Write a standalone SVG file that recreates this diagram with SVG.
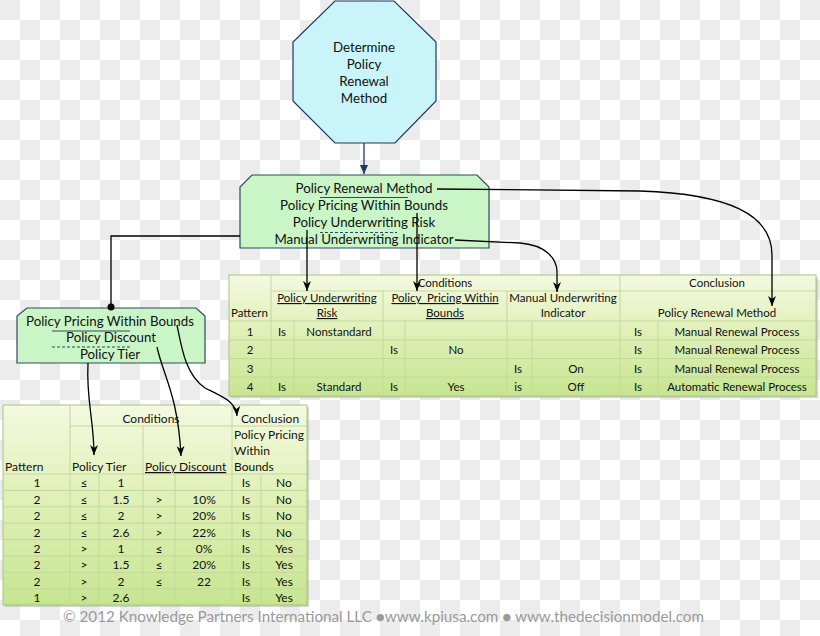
<svg xmlns="http://www.w3.org/2000/svg" width="820" height="636" viewBox="0 0 820 636">
<defs>
<pattern id="chk" x="0" y="0" width="40" height="40" patternUnits="userSpaceOnUse">
<rect width="40" height="40" fill="#ffffff"/>
<rect width="20" height="20" fill="#ececec"/>
<rect x="20" y="20" width="20" height="20" fill="#ececec"/>
</pattern>
<linearGradient id="tg" x1="0" y1="0" x2="0" y2="1">
<stop offset="0" stop-color="#f4f9e0"/>
<stop offset="0.4" stop-color="#e3f1bd"/>
<stop offset="1" stop-color="#c6e590"/>
</linearGradient>
<marker id="ah" viewBox="0 0 10 10" refX="10" refY="5" markerWidth="10" markerHeight="10" markerUnits="userSpaceOnUse" orient="auto">
<path d="M0,1 L10,5 L0,9 L3,5 z" fill="#000"/>
</marker>
<marker id="ahn" viewBox="0 0 10 10" refX="10" refY="5" markerWidth="9" markerHeight="9" markerUnits="userSpaceOnUse" orient="auto">
<path d="M0,0.5 L10,5 L0,9.5 z" fill="#1f3864"/>
</marker>
</defs>
<style>
text{font-family:Lato,"Liberation Sans",sans-serif;fill:#111}
.b{font-size:13.3px;text-anchor:middle}
.t{font-size:11.5px}
.l{font-size:12px}
.m{text-anchor:middle}
.u{text-decoration:underline}
.grid{stroke:#c3d99a;stroke-width:1;fill:none}
.out{stroke:#a8c67a;stroke-width:1;fill:url(#tg)}
.sh{fill:#b8b8b8;opacity:0.6}
.c{fill:none;stroke:#000;stroke-width:1.3}
.gbox{fill:#c9f5c7;stroke:#2e4a5c;stroke-width:1.2}
</style>
<rect width="820" height="636" fill="url(#chk)"/>

<g id="node-determine">
<polygon points="335,1 394,1 436,42 436,101 395,143 335,143 293,101 293,42" fill="#c8f4fa" stroke="#1f3864" stroke-width="1.2"/>
<text class="b" x="364" y="52">Determine</text>
<text class="b" x="364" y="69">Policy</text>
<text class="b" x="364" y="86">Renewal</text>
<text class="b" x="364" y="103">Method</text>
</g>

<g id="node-renewal-method">
<polygon class="gbox" points="252,175 477,175 489,187 489,248 240,248 240,187"/>
<text class="b" x="364" y="193">Policy Renewal Method</text>
<text class="b" x="364" y="210">Policy Pricing Within Bounds</text>
<text class="b" x="364" y="227">Policy Underwriting Risk</text>
<text class="b" x="364" y="244">Manual Underwriting Indicator</text>
<line x1="320" y1="197.5" x2="408" y2="197.5" stroke="#2e4a5c" stroke-width="1"/>
<line x1="320" y1="232.5" x2="397" y2="232.5" stroke="#2e4a5c" stroke-width="1" stroke-dasharray="3,2"/>
</g>

<g id="node-pricing-bounds">
<polygon class="gbox" points="27,308 196,308 205,316 205,363 17,363 17,316"/>
<text class="b" x="110" y="326">Policy Pricing Within Bounds</text>
<text class="b" x="111" y="342">Policy Discount</text>
<text class="b" x="110" y="359">Policy Tier</text>
<line x1="52" y1="331" x2="130" y2="331" stroke="#2e4a5c" stroke-width="1"/>
<line x1="52" y1="347" x2="130" y2="347" stroke="#2e4a5c" stroke-width="1" stroke-dasharray="3,2"/>
</g>

<g id="node-renewal-table">
<rect class="sh" x="231" y="277" width="587" height="121"/>
<rect class="out" x="229" y="275" width="587" height="121"/>
<path class="grid" d="M271,291 H816 M229,321 H816 M229,340 H816 M229,358.5 H816 M229,377 H816 M271,275 V396 M620,275 V396 M383,291 V396 M507,291 V396 M294,321 V396 M405,321 V396 M532,321 V396 M658,321 V396"/>
<text class="t m" x="445" y="287">Conditions</text>
<text class="t m" x="717" y="287">Conclusion</text>
<text class="t" x="231" y="317">Pattern</text>
<text class="t m u" x="327" y="302">Policy Underwriting</text>
<text class="t m u" x="327" y="317">Risk</text>
<text class="t m u" x="445" y="302" xml:space="preserve" style="white-space:pre">Policy  Pricing Within</text>
<text class="t m u" x="445" y="317">Bounds</text>
<text class="t m" x="563" y="302">Manual Underwriting</text>
<text class="t m" x="563" y="317">Indicator</text>
<text class="t m" x="717" y="317">Policy Renewal Method</text>
<text class="t m" x="250" y="335.5">1</text>
<text class="t m" x="282" y="335.5">Is</text>
<text class="t m" x="339" y="335.5">Nonstandard</text>
<text class="t m" x="638" y="335.5">Is</text>
<text class="t m" x="737" y="335.5">Manual Renewal Process</text>
<text class="t m" x="250" y="354">2</text>
<text class="t m" x="394" y="354">Is</text>
<text class="t m" x="456" y="354">No</text>
<text class="t m" x="638" y="354">Is</text>
<text class="t m" x="737" y="354">Manual Renewal Process</text>
<text class="t m" x="250" y="372.5">3</text>
<text class="t m" x="518" y="372.5">Is</text>
<text class="t m" x="576" y="372.5">On</text>
<text class="t m" x="638" y="372.5">Is</text>
<text class="t m" x="737" y="372.5">Manual Renewal Process</text>
<text class="t m" x="250" y="391">4</text>
<text class="t m" x="282" y="391">Is</text>
<text class="t m" x="339" y="391">Standard</text>
<text class="t m" x="394" y="391">Is</text>
<text class="t m" x="456" y="391">Yes</text>
<text class="t m" x="518" y="391">is</text>
<text class="t m" x="576" y="391">Off</text>
<text class="t m" x="638" y="391">Is</text>
<text class="t m" x="737" y="391">Automatic Renewal Process</text>
</g>

<g id="node-pricing-table">
<rect class="sh" x="5" y="407" width="304" height="200"/>
<rect class="out" x="3" y="405" width="304" height="200"/>
<path class="grid" d="M70,426 H307 M3,474 H307 M3,490.4 H307 M3,506.8 H307 M3,523.2 H307 M3,539.6 H307 M3,556 H307 M3,572.4 H307 M3,588.8 H307 M70,405 V605 M232,405 V605 M143,426 V605 M99,474 V605 M175,474 V605 M261,474 V605"/>
<text class="l m" x="151" y="423">Conditions</text>
<text class="l m" x="270" y="423">Conclusion</text>
<text class="l" x="234" y="439">Policy Pricing</text>
<text class="l" x="234" y="455">Within</text>
<text class="l" x="234" y="471">Bounds</text>
<text class="l" x="5" y="471">Pattern</text>
<text class="l" x="72" y="471">Policy Tier</text>
<text class="l u" x="145" y="471">Policy Discount</text>
<g class="l m">
<text x="37" y="487">1</text><text x="84" y="487">≤</text><text x="121" y="487">1</text><text x="246" y="487">Is</text><text x="284" y="487">No</text>
<text x="37" y="503.5">2</text><text x="84" y="503.5">≤</text><text x="121" y="503.5">1.5</text><text x="159" y="503.5">&gt;</text><text x="204" y="503.5">10%</text><text x="246" y="503.5">Is</text><text x="284" y="503.5">No</text>
<text x="37" y="520">2</text><text x="84" y="520">≤</text><text x="121" y="520">2</text><text x="159" y="520">&gt;</text><text x="204" y="520">20%</text><text x="246" y="520">Is</text><text x="284" y="520">No</text>
<text x="37" y="536.5">2</text><text x="84" y="536.5">≤</text><text x="121" y="536.5">2.6</text><text x="159" y="536.5">&gt;</text><text x="204" y="536.5">22%</text><text x="246" y="536.5">Is</text><text x="284" y="536.5">No</text>
<text x="37" y="553">2</text><text x="84" y="553">&gt;</text><text x="121" y="553">1</text><text x="159" y="553">≤</text><text x="204" y="553">0%</text><text x="246" y="553">Is</text><text x="284" y="553">Yes</text>
<text x="37" y="569">2</text><text x="84" y="569">&gt;</text><text x="121" y="569">1.5</text><text x="159" y="569">≤</text><text x="204" y="569">20%</text><text x="246" y="569">Is</text><text x="284" y="569">Yes</text>
<text x="37" y="585.5">2</text><text x="84" y="585.5">&gt;</text><text x="121" y="585.5">2</text><text x="159" y="585.5">≤</text><text x="204" y="585.5">22</text><text x="246" y="585.5">Is</text><text x="284" y="585.5">Yes</text>
<text x="37" y="602">1</text><text x="84" y="602">&gt;</text><text x="121" y="602">2.6</text><text x="246" y="602">Is</text><text x="284" y="602">Yes</text>
</g>
</g>

<g id="connectors">
<line x1="364" y1="143" x2="364" y2="174" stroke="#1f3864" stroke-width="1.3" marker-end="url(#ahn)"/>
<path class="c" d="M437,189 L640,191 C730,194 772,215 772,255 L772,306" marker-end="url(#ah)"/>
<path class="c" d="M455,240 L520,243 C545,245 557,258 557,272 L557,292" marker-end="url(#ah)"/>
<path class="c" d="M307,230 L307,291" marker-end="url(#ah)"/>
<path class="c" d="M417,213 L417,291" marker-end="url(#ah)"/>
<path class="c" d="M240,236 L111,236 L111,307"/>
<circle cx="111" cy="307" r="3.5" fill="#000"/>
<path class="c" d="M177,325 C182,350 186,375 205,388 C225,398 236,402 237,416" marker-end="url(#ah)"/>
<path class="c" d="M157,347 C163,375 178,395 181,456" marker-end="url(#ah)"/>
<path class="c" d="M88,363 C86,400 94,420 94,455" marker-end="url(#ah)"/>
</g>

<text x="63" y="622" font-size="14.5" textLength="641" lengthAdjust="spacingAndGlyphs" style="fill:#9a9a9a">© 2012 Knowledge Partners International LLC ●www.kpiusa.com ● www.thedecisionmodel.com</text>
</svg>
